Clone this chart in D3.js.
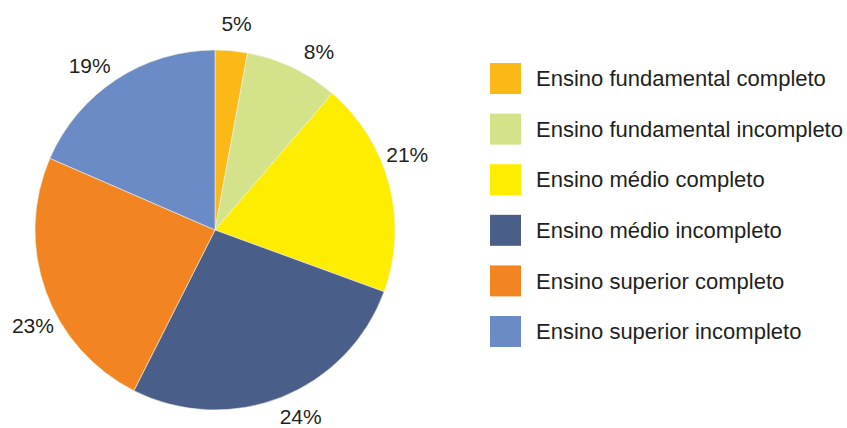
<!DOCTYPE html>
<html>
<head>
<meta charset="utf-8">
<script src="https://cdn.jsdelivr.net/npm/d3@7"></script>
<style>
  body { margin: 0; background: #fff; }
  text { font-family: "Liberation Sans", Arial, sans-serif; fill: #231f20; }
</style>
</head>
<body>
<div id="chart"></div>
<script>
const categories = [
    "Ensino fundamental completo",
    "Ensino fundamental incompleto",
    "Ensino médio completo",
    "Ensino médio incompleto",
    "Ensino superior completo",
    "Ensino superior incompleto"
];
// slice sizes as drawn in the picture
const shares = [2.9, 8.4, 19.3, 26.9, 24.1, 18.5];
// printed labels
const labels = ["5%", "8%", "21%", "24%", "23%", "19%"];
const colors = ["#fbb817", "#d4e28a", "#ffed00", "#4a5e8a", "#f28522", "#6b8bc6"];

const width = 847, height = 428;
const cx = 215, cy = 230, radius = 180;
// small angular nudges (degrees) so labels sit where the original puts them
const labelNudge = [0.8, 4.8, -6.4, -3, -8, -4.2];

const svg = d3.select("#chart").append("svg")
    .attr("width", width)
    .attr("height", height);

const pie = d3.pie().sort(null).value(d => d);
const arcs = pie(shares);

const arc = d3.arc().innerRadius(0).outerRadius(radius);

const g = svg.append("g").attr("transform", `translate(${cx},${cy})`);

g.selectAll("path")
  .data(arcs)
  .join("path")
    .attr("d", arc)
    .attr("fill", (d, i) => colors[i])
    .attr("stroke", "#f4f0e0")
    .attr("stroke-width", 0.6);

//percentage labels around the pie
const labelR = 206;
g.selectAll("text.pct")
  .data(arcs)
  .join("text")
    .attr("class", "pct")
    .attr("transform", (d, i) => {
        const a = (d.startAngle + d.endAngle) / 2 + labelNudge[i] * Math.PI / 180;
        return `translate(${labelR * Math.sin(a)},${-labelR * Math.cos(a)})`;
    })
    .attr("text-anchor", "middle")
    .attr("dy", "0.3em")
    .style("font-size", "21px")
    .text((d, i) => labels[i]);

//legend, one row every ~50px
const legendY = d3.scalePoint()
    .domain(categories)
    .range([63, 316]);

const legend = svg.append("g")
    .selectAll("g")
    .data(categories)
    .join("g")
      .attr("transform", d => `translate(490, ${legendY(d)})`);

legend.append("rect")
    .attr("width", 31)
    .attr("height", 31)
    .attr("fill", (d, i) => colors[i]);

legend.append("text")
    .attr("x", 46)
    .attr("y", 15.5)
    .attr("dy", "0.35em")
    .style("font-size", "22px")
    .text(d => d);
</script>
</body>
</html>
